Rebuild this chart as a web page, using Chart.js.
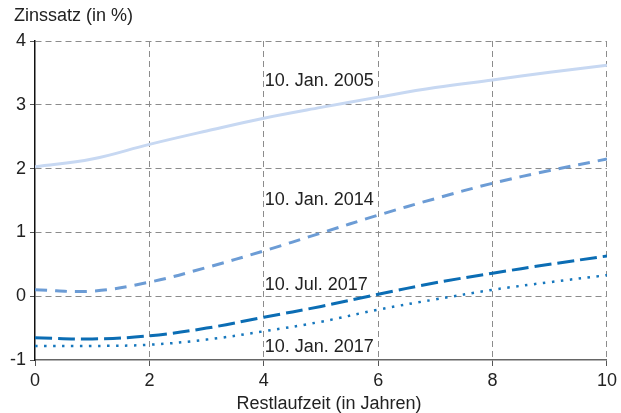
<!DOCTYPE html>
<html lang="de">
  <head>
    <meta charset="UTF-8" />
    <title>Zinsstrukturkurven</title>
    <script src="https://cdn.jsdelivr.net/npm/chart.js"></script>
    <style>
      body { margin: 0; background: #fff; }
      #chartContainer { width: 621px; height: 413px; }
    </style>
  </head>
  <body>
    <div id="chartContainer">
      <canvas id="myChart" width="621" height="413"></canvas>
    </div>
    <script>
      // Restlaufzeit in Jahren
      const maturities = [0, 1, 2, 3, 4, 5, 6, 7, 8, 9, 10];
      const jan2005 = [2.03, 2.15, 2.38, 2.59, 2.79, 2.96, 3.12, 3.27, 3.39, 3.51, 3.62];
      const jan2014 = [0.10, 0.08, 0.22, 0.45, 0.71, 0.99, 1.27, 1.53, 1.77, 1.97, 2.15];
      const jul2017 = [-0.65, -0.67, -0.62, -0.50, -0.33, -0.16, 0.03, 0.21, 0.36, 0.50, 0.63];
      const jan2017 = [-0.78, -0.78, -0.76, -0.68, -0.55, -0.40, -0.21, -0.05, 0.10, 0.22, 0.33];
      const seriesLabels = ["10. Jan. 2005", "10. Jan. 2014", "10. Jul. 2017", "10. Jan. 2017"];
      const xTicks = [0, 2, 4, 6, 8, 10];
      const yTicks = [-1, 0, 1, 2, 3, 4];

      const FONT = "'Liberation Sans', Arial, sans-serif";
      const TEXT = "#222";
      const GRID = "#8c8c8c";

      const toPoints = (ys) => maturities.map((x, i) => ({ x: x, y: ys[i] }));

      // where each series label sits (in data units)
      const labelY = [3.37, 1.5, 0.17, -0.8];

      const textPlugin = {
        id: "texts",
        afterDraw(chart) {
          const { ctx, scales } = chart;
          ctx.save();
          ctx.fillStyle = TEXT;
          ctx.font = "18px " + FONT;
          ctx.textBaseline = "middle";
          ctx.textAlign = "left";
          seriesLabels.forEach((t, i) => {
            ctx.fillText(t, scales.x.getPixelForValue(4) + 1, scales.y.getPixelForValue(labelY[i]));
          });
          ctx.fillText("Zinssatz (in %)", 14, 16);
          ctx.textAlign = "center";
          ctx.fillText("Restlaufzeit (in Jahren)", 329, 404);
          ctx.restore();
        },
      };

      const ctx = document.getElementById("myChart").getContext("2d");

      new Chart(ctx, {
        type: "line",
        data: {
          datasets: [
            {
              label: seriesLabels[0],
              data: toPoints(jan2005),
              borderColor: "#c7d8f2",
              borderWidth: 3,
            },
            {
              label: seriesLabels[1],
              data: toPoints(jan2014),
              borderColor: "#6c9cd5",
              borderWidth: 3,
              borderDash: [12, 8],
            },
            {
              label: seriesLabels[2],
              data: toPoints(jul2017),
              borderColor: "#0b6db4",
              borderWidth: 3,
              borderDash: [17, 6],
            },
            {
              label: seriesLabels[3],
              data: toPoints(jan2017),
              borderColor: "#1677bd",
              borderWidth: 2.5,
              borderDash: [2.5, 6.5],
            },
          ],
        },
        options: {
          responsive: false,
          animation: false,
          layout: { padding: { top: 41, right: 10, left: 0, bottom: 0 } },
          elements: {
            point: { radius: 0 },
            line: { tension: 0.4, fill: false },
          },
          scales: {
            x: {
              type: "linear",
              min: 0,
              max: 10,
              afterBuildTicks: (s) => { s.ticks = xTicks.map((v) => ({ value: v })); },
              afterFit: (s) => { s.height = 53; },
              ticks: { color: TEXT, font: { family: FONT, size: 18 }, padding: 4 },
              grid: {
                color: (c) => (c.tick && c.tick.value === 0 ? "rgba(0,0,0,0)" : GRID),
                tickLength: 6,
                tickColor: "#555",
                tickBorderDash: [],
              },
              border: { display: true, color: "#666", width: 1.5, dash: [6, 4] },
            },
            y: {
              type: "linear",
              min: -1,
              max: 4,
              afterBuildTicks: (s) => { s.ticks = yTicks.map((v) => ({ value: v })); },
              afterFit: (s) => { s.width = 35; },
              ticks: { color: TEXT, font: { family: FONT, size: 18 }, padding: 4 },
              grid: {
                color: (c) => (c.tick && c.tick.value === -1 ? "rgba(0,0,0,0)" : GRID),
                tickLength: 5,
                tickColor: "#555",
                tickBorderDash: [],
              },
              border: { display: true, color: "#111", width: 1.5, dash: [6, 4] },
            },
          },
          plugins: {
            legend: { display: false },
            tooltip: { enabled: false },
          },
        },
        plugins: [textPlugin],
      });
    </script>
  </body>
</html>
